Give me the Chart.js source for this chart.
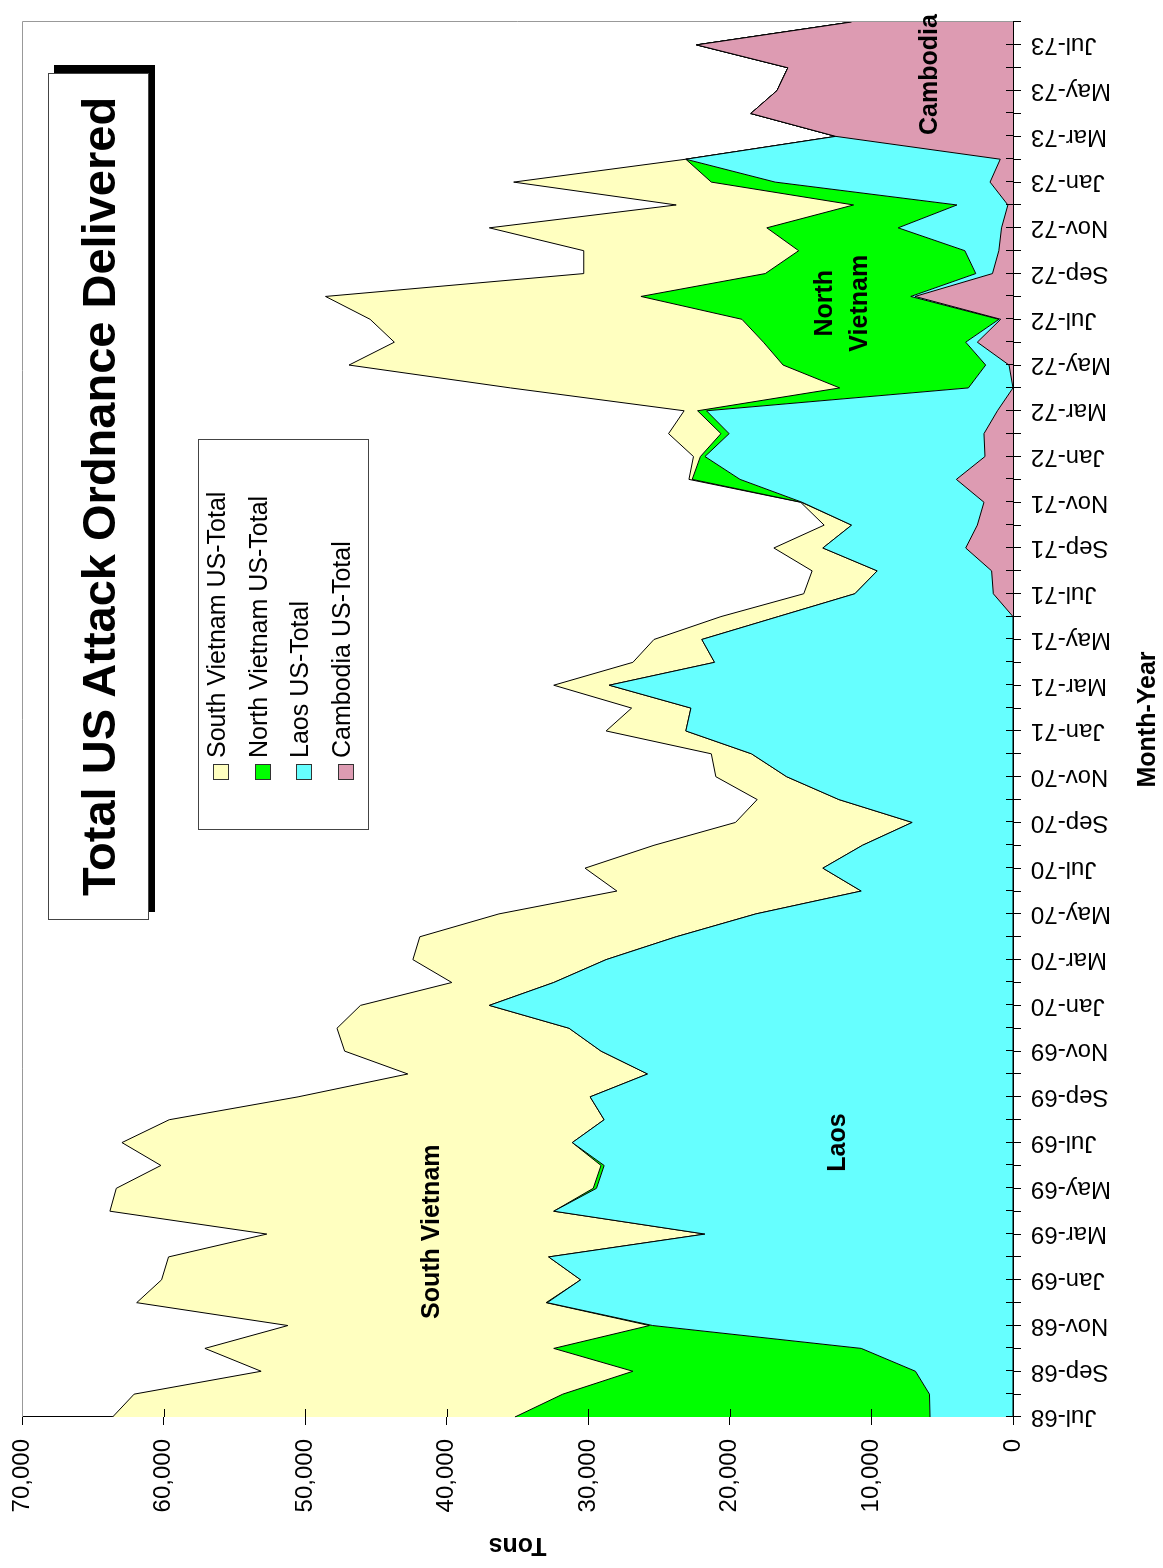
<!DOCTYPE html>
<html>
<head>
<meta charset="utf-8">
<title>Total US Attack Ordnance Delivered</title>
<script src="https://cdn.jsdelivr.net/npm/chart.js@4.4.0/dist/chart.umd.min.js"></script>
<style>
  html, body { margin: 0; padding: 0; background: #fff; }
  body { width: 1163px; height: 1568px; overflow: hidden; position: relative; font-family: 'Liberation Sans', Arial, sans-serif; }
  /* the chart is laid out landscape, then turned a quarter turn counter-clockwise */
  #frame { position: absolute; left: 0; top: 0; width: 1568px; height: 1163px; transform-origin: 0 0; transform: translate(0px, 1568px) rotate(-90deg); }
  #chart { position: absolute; left: 0; top: 0; }
  #title { position: absolute; left: 648px; top: 48px; width: 847px; height: 101px; box-sizing: border-box; border: 1px solid #444; background: #fff; box-shadow: 8px 6px 0 #000; font-weight: bold; font-size: 47px; line-height: 99px; text-align: center; white-space: nowrap; }
  #legend { position: absolute; left: 738px; top: 198px; width: 391px; height: 171px; box-sizing: border-box; border: 1px solid #444; background: #fff; }
  #legend .sw { position: absolute; left: 49px; width: 16px; height: 16px; box-sizing: border-box; border: 1px solid #333; }
  #legend .lb { position: absolute; left: 71px; font-size: 25px; line-height: 25px; white-space: nowrap; }
</style>
</head>
<body>
<div id="frame">
  <canvas id="chart" width="1568" height="1163"></canvas>
  <div id="title">Total US Attack Ordnance Delivered</div>
  <div id="legend"></div>
</div>
<script>
// month categories, Jul-68 .. Aug-73
const months = [
  'Jul-68','Aug-68','Sep-68','Oct-68','Nov-68','Dec-68',
  'Jan-69','Feb-69','Mar-69','Apr-69','May-69','Jun-69','Jul-69','Aug-69','Sep-69','Oct-69','Nov-69','Dec-69',
  'Jan-70','Feb-70','Mar-70','Apr-70','May-70','Jun-70','Jul-70','Aug-70','Sep-70','Oct-70','Nov-70','Dec-70',
  'Jan-71','Feb-71','Mar-71','Apr-71','May-71','Jun-71','Jul-71','Aug-71','Sep-71','Oct-71','Nov-71','Dec-71',
  'Jan-72','Feb-72','Mar-72','Apr-72','May-72','Jun-72','Jul-72','Aug-72','Sep-72','Oct-72','Nov-72','Dec-72',
  'Jan-73','Feb-73','Mar-73','Apr-73','May-73','Jun-73','Jul-73','Aug-73'
];

// tons per month
const cambodia = [
  0, 0, 0, 0, 0, 0,
  0, 0, 0, 0, 0, 0, 0, 0, 0, 0, 0, 0,
  0, 0, 0, 0, 0, 0, 0, 0, 0, 0, 0, 0,
  0, 0, 0, 0, 0, 0, 1390, 1510, 3340, 2520, 2050, 4000,
  1980, 2050, 1100, 0, 280, 2520, 870, 6920, 1450, 1000, 810, 360,
  1620, 900, 12520, 18520, 16670, 15900, 22350, 11400
];
const laos = [
  5860, 5900, 6890, 10720, 25450, 32900,
  30540, 32800, 21760, 32440, 29420, 28880, 31130, 28880, 29870, 25810, 29100, 31360,
  36990, 32440, 28740, 23790, 18160, 10720, 13430, 10630, 7120, 12300, 15990, 18470,
  23110, 22750, 28520, 21080, 21980, 16580, 9780, 8080, 10090, 8880, 12850, 15280,
  19780, 18000, 20550, 3150, 1650, 820, 120, 300, 1180, 2400, 7300, 3600,
  15180, 22210, 0, 0, 0, 0, 0, 0
];
const northVietnam = [
  29320, 25900, 19960, 21720, 230, 80,
  0, 0, 0, 0, 230, 220, 0, 0, 0, 0, 0, 0,
  0, 0, 0, 0, 0, 0, 0, 0, 0, 0, 0, 0,
  0, 0, 0, 0, 0, 0, 0, 0, 0, 0, 50, 3380,
  320, 580, 630, 9090, 14310, 14290, 18160, 19060, 14870, 11740, 9280, 7300,
  4510, 0, 0, 0, 0, 0, 0, 0
];
const southVietnam = [
  28420, 30280, 26260, 24640, 25540, 28920,
  29600, 26850, 30950, 31350, 33690, 31090, 31810, 30720, 20630, 16940, 18110, 16390,
  9100, 7200, 13650, 18110, 18150, 17260, 16800, 14730, 12480, 5770, 5000, 2840,
  5630, 4190, 3920, 5770, 3380, 4050, 3610, 4600, 3460, 1940, 50, 230,
  490, 3700, 950, 23260, 30660, 26070, 26260, 22280, 12820, 15180, 19600, 12530,
  13960, 0, 0, 0, 0, 0, 0, 0
];

const seriesNames = ['South Vietnam US-Total', 'North Vietnam US-Total', 'Laos US-Total', 'Cambodia US-Total'];
const seriesColors = ['#FFFFC0', '#00FF00', '#66FFFF', '#DD9BB2'];

// area names written on the chart, placed by month index and tons
const areaLabels = [
  { lines: ['South Vietnam'], at: 8.1, tons: 41000 },
  { lines: ['Laos'], at: 12.0, tons: 12350 },
  { lines: ['North', 'Vietnam'], at: 48.7, tons: 12050 },
  { lines: ['Cambodia'], at: 58.7, tons: 5860 }
];

const FONT = "'Liberation Sans', Arial, sans-serif";

// legend (html, inside the turned frame)
const legend = document.getElementById('legend');
seriesNames.forEach((name, k) => {
  const sw = document.createElement('div');
  sw.className = 'sw';
  sw.style.top = (14 + k * 41.5) + 'px';
  sw.style.background = seriesColors[k];
  legend.appendChild(sw);
  const lb = document.createElement('div');
  lb.className = 'lb';
  lb.style.top = (5 + k * 41.5) + 'px';
  lb.textContent = name;
  legend.appendChild(lb);
});

const chartDecor = {
  id: 'chartDecor',
  afterDatasetsDraw(chart) {
    const { ctx, chartArea: a, scales: { x, y } } = chart;
    ctx.save();
    // tick marks crossing into the plot
    ctx.strokeStyle = '#000';
    ctx.lineWidth = 1;
    ctx.beginPath();
    x.ticks.forEach((t, i) => {
      const px = Math.round(x.getPixelForTick(i)) + 0.5;
      ctx.moveTo(px, a.bottom);
      ctx.lineTo(px, a.bottom - 7);
    });
    y.ticks.forEach((t, i) => {
      const py = Math.round(y.getPixelForTick(i)) + 0.5;
      ctx.moveTo(a.left, py);
      ctx.lineTo(a.left + 8, py);
    });
    ctx.stroke();
    // grey plot frame on the far sides
    ctx.strokeStyle = '#999';
    ctx.beginPath();
    ctx.moveTo(a.left, a.top + 0.5);
    ctx.lineTo(a.right + 0.5, a.top + 0.5);
    ctx.lineTo(a.right + 0.5, a.bottom);
    ctx.stroke();
    // area names
    ctx.fillStyle = '#000';
    ctx.font = 'bold 25px ' + FONT;
    ctx.textAlign = 'center';
    ctx.textBaseline = 'middle';
    areaLabels.forEach(l => {
      const cx = x.getPixelForValue(l.at);
      const cy = y.getPixelForValue(l.tons);
      const h = 35;
      l.lines.forEach((s, j) => {
        ctx.fillText(s, cx, cy + (j - (l.lines.length - 1) / 2) * h);
      });
    });
    ctx.restore();
  }
};

const stackOrder = [
  { label: seriesNames[3], data: cambodia, color: seriesColors[3] },
  { label: seriesNames[2], data: laos, color: seriesColors[2] },
  { label: seriesNames[1], data: northVietnam, color: seriesColors[1] },
  { label: seriesNames[0], data: southVietnam, color: seriesColors[0] }
];

new Chart(document.getElementById('chart'), {
  type: 'line',
  data: {
    labels: months,
    datasets: stackOrder.map((s, k) => ({
      label: s.label,
      data: s.data,
      backgroundColor: s.color,
      borderColor: '#000',
      borderWidth: 1,
      pointRadius: 0,
      tension: 0,
      fill: k === 0 ? 'origin' : '-1'
    }))
  },
  options: {
    responsive: false,
    animation: false,
    devicePixelRatio: 1,
    layout: { padding: { top: 22, right: 22, left: 0, bottom: 0 } },
    plugins: {
      legend: { display: false },
      tooltip: { enabled: false }
    },
    scales: {
      x: {
        offset: false,
        afterFit: s => { s.height = 150; s.paddingLeft = 0; s.paddingRight = 0; },
        grid: { drawOnChartArea: false, color: '#000', tickLength: 8 },
        border: { color: '#000', width: 1 },
        ticks: {
          autoSkip: false,
          minRotation: 90,
          maxRotation: 90,
          padding: 10,
          color: '#000',
          font: { family: FONT, size: 24 },
          callback: (v, i) => (i % 2 === 0 ? months[i] : '')
        },
        title: {
          display: true,
          text: 'Month-Year',
          color: '#000',
          padding: { top: 0, bottom: 0 },
          font: { family: FONT, size: 25, weight: 'bold' }
        }
      },
      y: {
        stacked: true,
        min: 0,
        max: 70000,
        afterFit: s => { s.width = 151; s.paddingTop = 0; s.paddingBottom = 0; },
        grid: { drawOnChartArea: false, color: '#000', tickLength: 8 },
        border: { color: '#000', width: 1 },
        ticks: {
          stepSize: 10000,
          padding: 14,
          color: '#000',
          font: { family: FONT, size: 24 },
          callback: v => v.toLocaleString('en-US')
        },
        title: {
          display: true,
          text: 'Tons',
          color: '#000',
          padding: { top: 8, bottom: 0 },
          font: { family: FONT, size: 25, weight: 'bold' }
        }
      }
    }
  },
  plugins: [chartDecor]
});
</script>
</body>
</html>
